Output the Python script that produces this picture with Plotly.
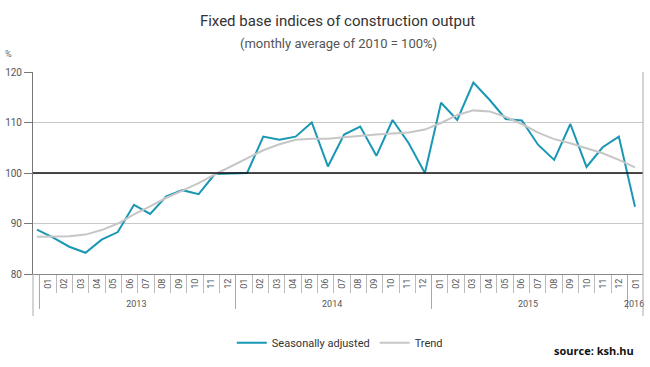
import plotly.graph_objects as go

# ---- data ----
label_years = ["2013"] * 12 + ["2014"] * 12 + ["2015"] * 12 + ["2016"]
label_months = ["01", "02", "03", "04", "05", "06", "07", "08", "09", "10", "11", "12"] * 3 + ["01"]

seasonally_adjusted = [88.8, 87.2, 85.4, 84.2, 86.8, 88.3, 93.7, 91.9, 95.4, 96.6,
                       95.8, 99.8, 99.9, 100.0, 107.2, 106.6, 107.2, 110.0, 101.3, 107.6,
                       109.2, 103.4, 110.5, 105.9, 100.0, 113.9, 110.5, 117.9, 114.5, 110.7,
                       110.4, 105.6, 102.6, 109.7, 101.2, 105.1, 107.2, 93.3]
trend = [87.4, 87.4, 87.5, 87.8, 88.7, 90.0, 91.8, 93.4, 95.1, 96.5,
         98.0, 99.7, 101.3, 102.8, 104.5, 105.7, 106.6, 106.8, 106.8, 107.1,
         107.4, 107.6, 107.8, 108.0, 108.6, 109.9, 111.5, 112.4, 112.2, 111.1,
         109.7, 108.0, 106.7, 105.9, 104.9, 103.9, 102.6, 101.1]
obs_index = list(range(len(seasonally_adjusted)))

TEAL = "#1a97b5"
GREY = "#c6c6c6"
FONT = "Roboto"

W, H = 650, 367
L, T = 33, 72
PW, PH = 610, 202

fig = go.Figure()
fig.add_trace(go.Scatter(x=obs_index, y=seasonally_adjusted, mode="lines",
                         name="Seasonally adjusted", line=dict(color=TEAL, width=2)))
fig.add_trace(go.Scatter(x=obs_index, y=trend, mode="lines",
                         name="Trend", line=dict(color=GREY, width=2)))
# label axis carrier
fig.add_trace(go.Scatter(x=[label_years, label_months], y=[80] * len(label_months),
                         mode="markers", marker=dict(opacity=0), showlegend=False,
                         hoverinfo="skip", xaxis="x2"))

fig.update_layout(
    width=W, height=H,
    margin=dict(l=L, r=W - L - PW, t=T, b=H - T - PH, autoexpand=False),
    paper_bgcolor="white", plot_bgcolor="white",
    font=dict(family=FONT, color="#555555", size=10),
    title=dict(text="Fixed base indices of construction output", x=337.5 / W, xanchor="center",
               y=1 - 21 / H, yanchor="middle", yref="container",
               font=dict(family=FONT, size=15, color="#333333")),
    xaxis=dict(type="linear", range=[-0.2475, 37.495], visible=False, automargin=False),
    xaxis2=dict(type="multicategory", overlaying="x", anchor="y", side="bottom",
                range=[-0.928, 36.45], showline=True, linecolor="#888888",
                ticks="outside", tickson="boundaries", ticklen=18, tickcolor="#bbbbbb",
                automargin=False,
                tickangle=-90, showdividers=True, dividercolor="#aaaaaa", dividerwidth=1,
                showgrid=False, tickfont=dict(size=9, color="#555555")),
    yaxis=dict(range=[80, 120], dtick=10, showgrid=True, gridcolor="#c8c8c8",
               showline=True, linecolor="#777777", mirror=False, ticks="outside",
               ticklen=8, tickcolor="#777777", zeroline=False, automargin=False,
               tickfont=dict(size=10, color="#555555")),
    legend=dict(orientation="h", x=0.503, xanchor="center", y=-0.34, yanchor="middle",
                font=dict(family=FONT, size=11, color="#333333")),
    showlegend=True,
)

fig.add_shape(type="line", xref="paper", yref="y", x0=0, x1=1, y0=100, y1=100,
              line=dict(color="#111111", width=1.5))
fig.add_shape(type="line", xref="paper", yref="paper", x0=1, x1=1, y0=-0.208, y1=1,
              line=dict(color="#aaaaaa", width=1))
fig.add_shape(type="line", xref="paper", yref="paper", x0=0, x1=0, y0=-0.208, y1=0,
              line=dict(color="#aaaaaa", width=1))

fig.add_annotation(text="(monthly average of 2010 = 100%)", xref="paper", yref="paper",
                   x=(338 - L) / PW, y=(274 - 43) / PH, yanchor="middle", showarrow=False,
                   font=dict(family=FONT, size=13, color="#555555"))
fig.add_annotation(text="%", xref="paper", yref="paper", x=(9 - L) / PW,
                   y=(274 - 54) / PH, xanchor="center", yanchor="middle", showarrow=False,
                   font=dict(family=FONT, size=9, color="#666666"))
fig.add_annotation(text="<b>source: ksh.hu</b>", xref="paper", yref="paper",
                   x=(636 - L) / PW, xanchor="right", y=(274 - 350) / PH, yanchor="middle",
                   showarrow=False, font=dict(family="Open Sans", size=11, color="#111111"))

fig.write_html("out.html", config={"displayModeBar": False},
               post_script="document.body.style.margin='0px';document.body.style.padding='0px';")
